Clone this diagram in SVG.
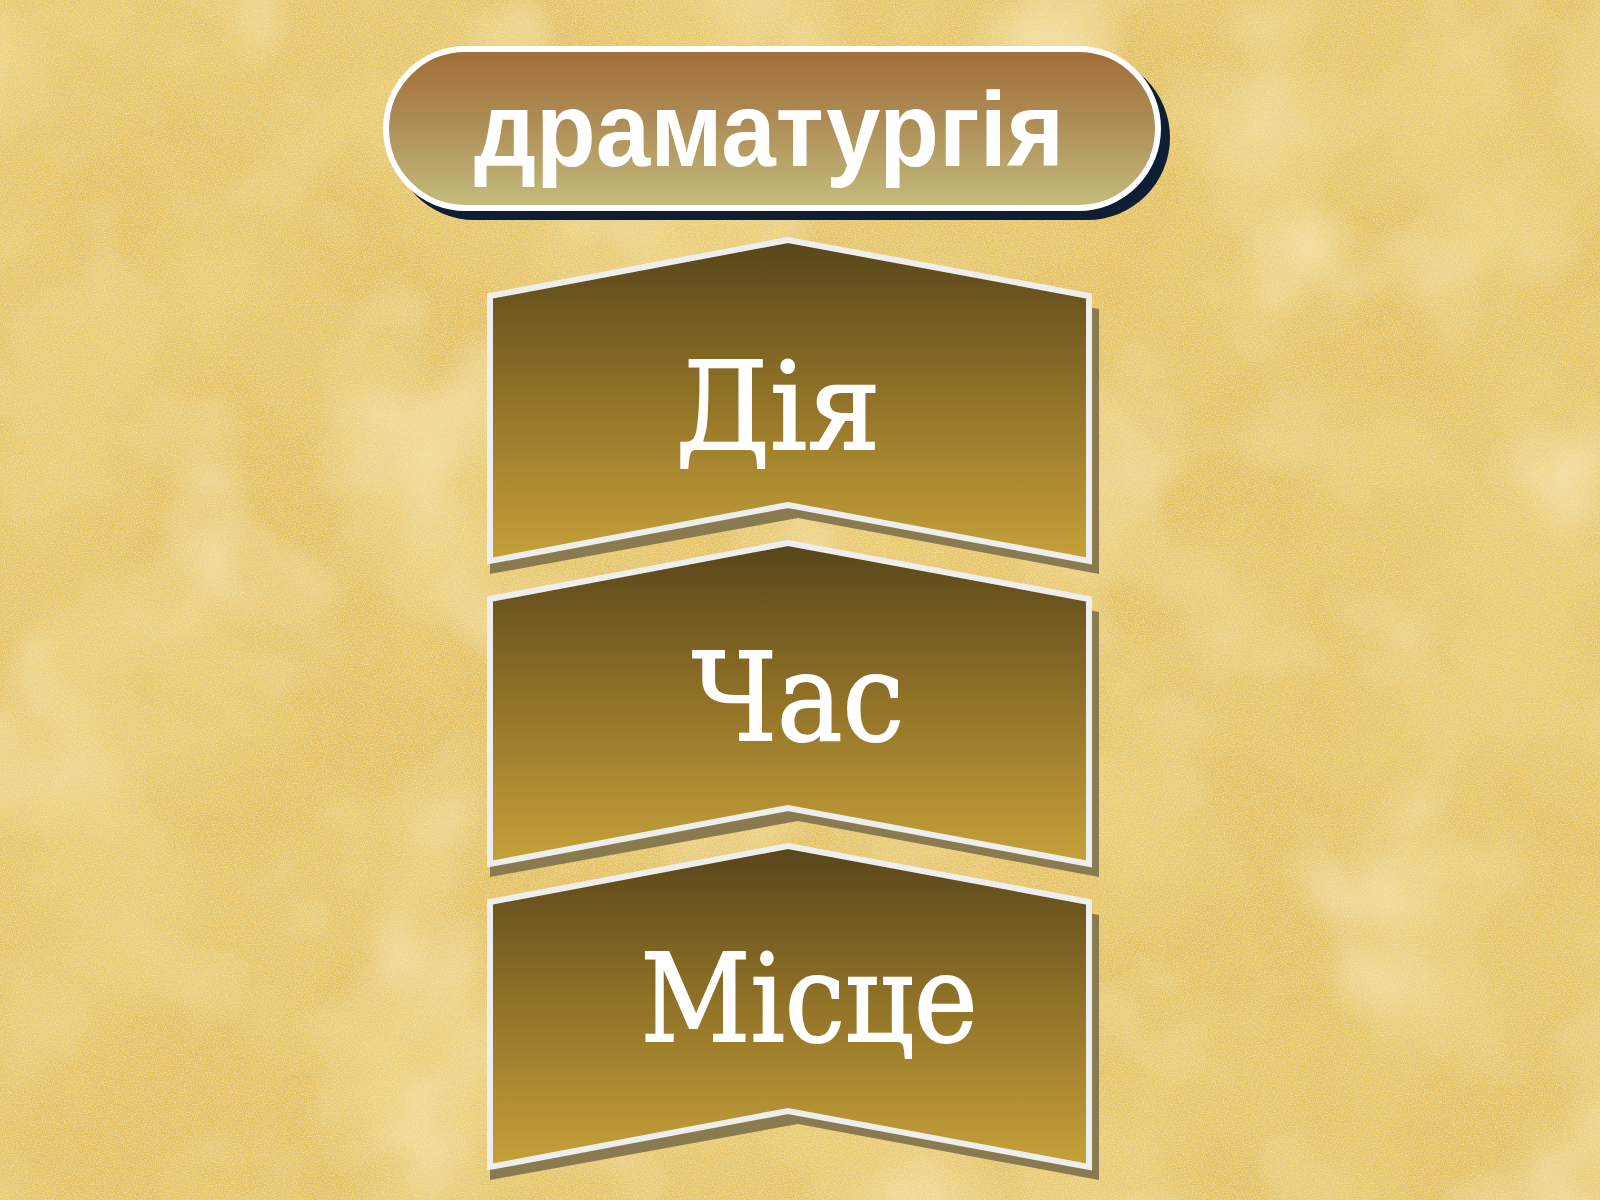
<svg xmlns="http://www.w3.org/2000/svg" width="1600" height="1200" viewBox="0 0 1600 1200">
  <defs>
    <filter id="paper" x="0" y="0" width="1600" height="1200" filterUnits="userSpaceOnUse">
      <feTurbulence type="fractalNoise" baseFrequency="0.005" numOctaves="4" seed="7" result="n"/>
      <feColorMatrix in="n" type="matrix" values="0 0 0 0 0.82  0 0 0 0 0.60  0 0 0 0 0.17  2.6 0 0 0 -1.05" result="blot"/>
      <feTurbulence type="fractalNoise" baseFrequency="0.006" numOctaves="3" seed="21" result="n2"/>
      <feColorMatrix in="n2" type="matrix" values="0 0 0 0 0.94  0 0 0 0 0.83  0 0 0 0 0.46  1.8 0 0 0 -0.85" result="light"/>
      <feTurbulence type="fractalNoise" baseFrequency="0.9" numOctaves="2" seed="2" result="g"/>
      <feColorMatrix in="g" type="matrix" values="0 0 0 0 0.95  0 0 0 0 0.85  0 0 0 0 0.5  0 1.2 0 0 -0.45" result="grain"/>
      <feMerge>
        <feMergeNode in="SourceGraphic"/>
        <feMergeNode in="light"/>
        <feMergeNode in="blot"/>
        <feMergeNode in="grain"/>
      </feMerge>
    </filter>
    <linearGradient id="pillGrad" x1="0" y1="0" x2="0" y2="1">
      <stop offset="0" stop-color="#a16c38"/>
      <stop offset="0.45" stop-color="#ae8c55"/>
      <stop offset="1" stop-color="#c4bd7e"/>
    </linearGradient>
    <linearGradient id="chevGrad" x1="0" y1="0" x2="0" y2="1">
      <stop offset="0" stop-color="#57451a"/>
      <stop offset="0.5" stop-color="#927328"/>
      <stop offset="1" stop-color="#c6a239"/>
    </linearGradient>
    <style>
      .pill { fill: url(#pillGrad); stroke: #ffffff; stroke-width: 6; }
      .pillShadow { fill: #0f1f33; }
      .chev { fill: url(#chevGrad); stroke: #eeeeee; stroke-width: 6; stroke-linejoin: miter; }
      .chevShadow { fill: #8a7a50; }
      .title { font-family: "Liberation Sans", Arial, sans-serif; font-weight: bold; font-size: 106px; fill: #ffffff; }
      .label { font-family: "DejaVu Serif", "Liberation Serif", serif; font-size: 122px; fill: #ffffff; stroke: #ffffff; stroke-width: 2; text-anchor: middle; }
    </style>
  </defs>

  <rect x="0" y="0" width="1600" height="1200" fill="#e3bf5e" filter="url(#paper)"/>

  <g id="connectors"/>

  <g id="title">
    <rect class="pillShadow" x="392" y="55" width="778" height="165" rx="82.5"/>
    <rect class="pill" x="386" y="49" width="772" height="159" rx="79.5"/>
    <text class="title" x="474" y="166" textLength="590" lengthAdjust="spacingAndGlyphs">драматургія</text>
  </g>

  <g id="node-dia">
    <polygon class="chevShadow" points="490,309 798,253 1099,309 1099,574 798,518 490,574"/>
    <polygon class="chev" points="490,296 788,240 1089,296 1089,561 788,505 490,561"/>
    <text class="label" x="778" y="449" textLength="205" lengthAdjust="spacingAndGlyphs">Дія</text>
  </g>

  <g id="node-chas">
    <polygon class="chevShadow" points="490,612 798,556 1099,612 1099,877 798,821 490,877"/>
    <polygon class="chev" points="490,599 788,543 1089,599 1089,864 788,808 490,864"/>
    <text class="label" x="798" y="740" textLength="212" lengthAdjust="spacingAndGlyphs">Час</text>
  </g>

  <g id="node-mistse">
    <polygon class="chevShadow" points="490,915 798,859 1099,915 1099,1180 798,1124 490,1180"/>
    <polygon class="chev" points="490,902 788,846 1089,902 1089,1167 788,1111 490,1167"/>
    <text class="label" x="809" y="1041" textLength="337" lengthAdjust="spacingAndGlyphs">Місце</text>
  </g>
</svg>
